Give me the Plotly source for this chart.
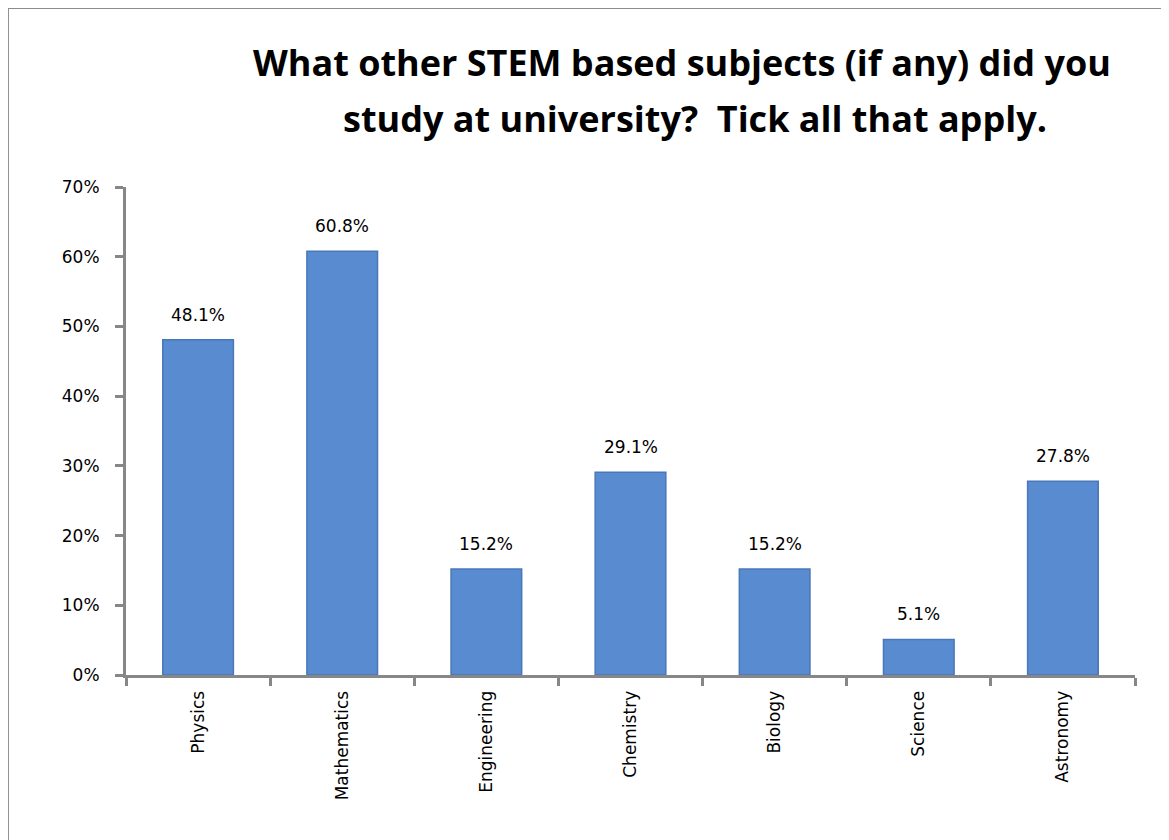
import plotly.graph_objects as go

categories = ["Physics", "Mathematics", "Engineering", "Chemistry", "Biology", "Science", "Astronomy"]
values = [48.1, 60.8, 15.2, 29.1, 15.2, 5.1, 27.8]
labels = ["48.1%", "60.8%", "15.2%", "29.1%", "15.2%", "5.1%", "27.8%"]
y_ticks = [0, 10, 20, 30, 40, 50, 60, 70]
y_tick_text = ["0%", "10%", "20%", "30%", "40%", "50%", "60%", "70%"]
title_lines = ["What other STEM based subjects (if any) did you",
               "study at university?  Tick all that apply."]

FONT = "DejaVu Sans"
GREY = "#878787"

fig = go.Figure()
fig.add_trace(go.Bar(
    x=categories, y=values,
    marker=dict(color="#588BD0", line=dict(color="#4878B9", width=1.5)),
    width=0.49,
))

annotations = []
for c, v, t in zip(categories, values, labels):
    annotations.append(dict(x=c, y=v, xref="x", yref="y", text=t, showarrow=False,
                            yanchor="bottom", yshift=13,
                            font=dict(family=FONT, size=17, color="black")))
annotations.append(dict(x=0.551, y=1.255, xref="paper", yref="paper", text="<b>" + title_lines[0] + "</b>",
                        showarrow=False, xanchor="center", yanchor="middle",
                        font=dict(family="Open Sans", size=36, color="black")))
annotations.append(dict(x=0.564, y=1.14, xref="paper", yref="paper", text="<b>" + title_lines[1] + "</b>",
                        showarrow=False, xanchor="center", yanchor="middle",
                        font=dict(family="Open Sans", size=36, color="black")))

fig.update_layout(
    width=1161, height=832,
    paper_bgcolor="white", plot_bgcolor="white",
    margin=dict(l=118, r=34, t=179, b=165),
    showlegend=False,
    annotations=annotations,
    xaxis=dict(range=[-0.5, 6.5], tickson="boundaries", ticks="outside", ticklen=8,
               tickcolor=GREY, tickwidth=3, showline=True, linecolor=GREY, linewidth=3,
               tickangle=-90, tickfont=dict(family=FONT, size=17, color="black"),
               ticklabelstandoff=6, showgrid=False),
    yaxis=dict(range=[0, 70], tickvals=y_ticks, ticktext=y_tick_text, ticks="outside", ticklen=8,
               tickcolor=GREY, tickwidth=3, showline=True, linecolor=GREY, linewidth=3,
               tickfont=dict(family=FONT, size=17, color="black"), showgrid=False,
               ticklabelstandoff=12, zeroline=False),
    shapes=[dict(type="rect", xref="paper", yref="paper", x0=-0.118, x1=1.1, y0=-0.6, y1=1.369,
                 line=dict(color="#8C8C8C", width=4), fillcolor="rgba(0,0,0,0)", layer="below")],
)

fig.write_html("out.html")
